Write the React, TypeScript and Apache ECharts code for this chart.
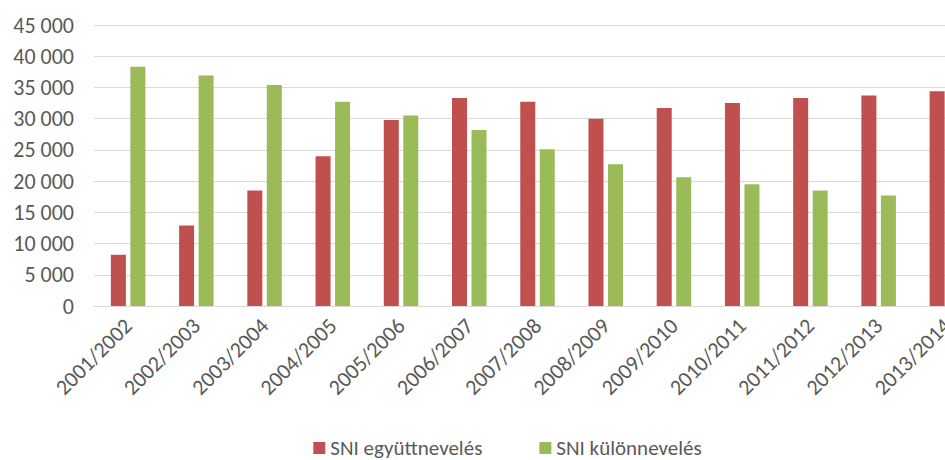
import React, { useEffect, useRef } from "react";
import * as echarts from "echarts";

const categories = [
  "2001/2002", "2002/2003", "2003/2004", "2004/2005", "2005/2006", "2006/2007", "2007/2008",
  "2008/2009", "2009/2010", "2010/2011", "2011/2012", "2012/2013", "2013/2014",
];
const egyuttneveles = [8200, 12900, 18500, 24000, 29800, 33300, 32700, 30000, 31700, 32500, 33300, 33700, 34400];
const kulonneveles = [38300, 36900, 35400, 32700, 30500, 28200, 25100, 22700, 20600, 19500, 18500, 17700, 17100];
const seriesNames = ["SNI együttnevelés", "SNI különnevelés"];
const colors = ["#C0504D", "#9BBB59"];

const FONT = "Carlito, 'Liberation Sans Narrow', 'DejaVu Sans Condensed', sans-serif";

export default function App() {
  const ref = useRef<HTMLDivElement>(null);
  useEffect(() => {
    if (!ref.current) return;
    const chart = echarts.init(ref.current, undefined, { renderer: "svg" });
    chart.setOption({
      animation: false,
      textStyle: { fontFamily: FONT },
      grid: { left: 94, top: 25, width: 887, height: 281, containLabel: false },
      legend: {
        top: 437,
        left: "center",
        padding: 0,
        itemWidth: 12,
        itemHeight: 12,
        itemGap: 57,
        icon: "rect",
        textStyle: { fontFamily: FONT, fontSize: 21, lineHeight: 22, color: "#595959" },
        data: seriesNames,
      },
      xAxis: {
        type: "category",
        data: categories,
        axisLine: { lineStyle: { color: "#D9D9D9", width: 1 } },
        axisTick: { show: false },
        axisLabel: {
          rotate: 45,
          interval: 0,
          margin: 16,
          fontFamily: FONT,
          fontSize: 22,
          color: "#595959",
        },
      },
      yAxis: {
        type: "value",
        min: 0,
        max: 45000,
        interval: 5000,
        axisLine: { show: false },
        axisTick: { show: false },
        splitLine: { lineStyle: { color: "#D9D9D9", width: 1 } },
        axisLabel: {
          margin: 20,
          fontFamily: FONT,
          fontSize: 22,
          color: "#595959",
          formatter: (v: number) => String(v).replace(/\B(?=(\d{3})+(?!\d))/g, " "),
        },
      },
      series: [
        {
          name: seriesNames[0],
          type: "bar",
          data: egyuttneveles,
          barWidth: 15,
          barGap: "30%",
          itemStyle: { color: colors[0] },
        },
        {
          name: seriesNames[1],
          type: "bar",
          data: kulonneveles,
          barWidth: 15,
          barGap: "30%",
          itemStyle: { color: colors[1] },
        },
      ],
    });
    return () => chart.dispose();
  }, []);
  return (
    <div style={{ position: "absolute", left: 0, top: 0, width: 945, height: 460, overflow: "hidden", background: "#fff" }}>
      <div ref={ref} style={{ width: 1015, height: 460 }} />
    </div>
  );
}
